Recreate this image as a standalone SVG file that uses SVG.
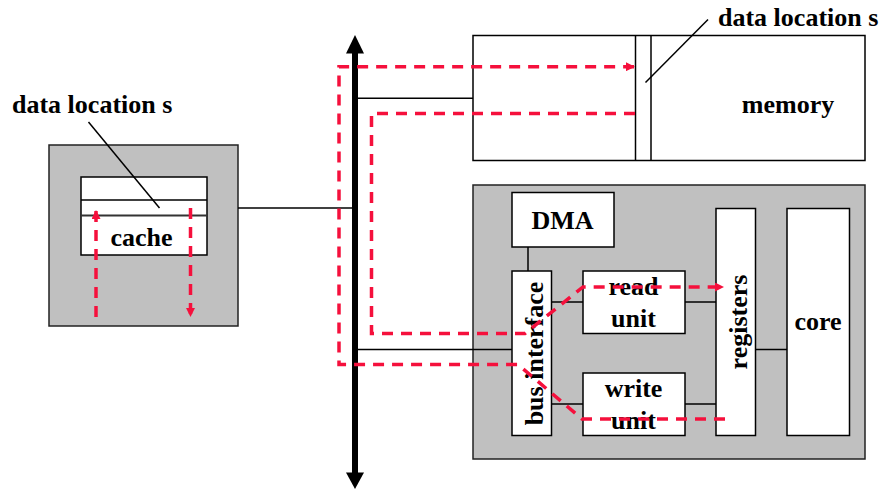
<svg xmlns="http://www.w3.org/2000/svg" width="880" height="492" viewBox="0 0 880 492">
<style>
.box{fill:#ffffff;stroke:#000;stroke-width:1.5}
.gray{fill:#c0c0c0;stroke:#222;stroke-width:1.5}
.ln{stroke:#000;stroke-width:1.5;fill:none}
.flow{stroke:#f5103c;stroke-width:3.5;fill:none;stroke-dasharray:11 8}
.t{font-family:"Liberation Serif","Times New Roman",serif;font-weight:bold;font-size:26px;fill:#000}
.m{text-anchor:middle}
</style>
<defs>
<marker id="ra" markerWidth="9" markerHeight="9" refX="8" refY="4.5" orient="auto" markerUnits="userSpaceOnUse">
<path d="M0,0 L9,4.5 L0,9 Z" fill="#f5103c"/>
</marker>
</defs>
<rect width="880" height="492" fill="#fff"/>

<g id="cache-unit">
<rect class="gray" x="49" y="145" width="189" height="181"/>
<rect class="box" x="81" y="177" width="126" height="78"/>
<line class="ln" x1="81" y1="200" x2="207" y2="200"/>
<line x1="81" y1="215.5" x2="207" y2="215.5" stroke="#333" stroke-width="2"/>
<text class="t m" x="141.5" y="246">cache</text>
</g>

<g id="label-cache-s">
<text class="t" x="12" y="113">data location s</text>
<line class="ln" x1="88.5" y1="122" x2="159.5" y2="208" stroke-width="1.2"/>
</g>

<g id="memory">
<rect class="box" x="473" y="35.5" width="392" height="125"/>
<line class="ln" x1="635.5" y1="35.5" x2="635.5" y2="160.5"/>
<line class="ln" x1="651" y1="35.5" x2="651" y2="160.5"/>
<text class="t m" x="788" y="113">memory</text>
</g>

<g id="label-memory-s">
<text class="t" x="718" y="26">data location s</text>
<line class="ln" x1="708" y1="19.5" x2="645.5" y2="82.5" stroke-width="1.2"/>
</g>

<g id="processor">
<rect class="gray" x="473" y="185" width="392" height="274"/>
</g>
<g id="dma">
<rect class="box" x="512" y="192.5" width="102" height="54.5"/>
<text class="t m" x="562.5" y="229">DMA</text>
</g>
<g id="bus-interface">
<rect class="box" x="512" y="271" width="39.5" height="164.5"/>
<text class="t m" transform="translate(542.5,353.5) rotate(-90)">bus interface</text>
</g>
<g id="read-unit">
<rect class="box" x="583" y="271" width="102" height="62.5"/>
<text class="t m" x="633.5" y="295">read</text>
<text class="t m" x="633.5" y="327">unit</text>
</g>
<g id="write-unit">
<rect class="box" x="583" y="373" width="102" height="62.5"/>
<text class="t m" x="633.5" y="397">write</text>
<text class="t m" x="633.5" y="428.5">unit</text>
</g>
<g id="registers">
<rect class="box" x="716" y="208.5" width="39.5" height="227"/>
<text class="t m" transform="translate(747,322) rotate(-90)">registers</text>
</g>
<g id="core">
<rect class="box" x="787" y="208.5" width="62.5" height="227"/>
<text class="t m" x="818" y="330">core</text>
</g>

<g id="bus">
<line x1="355" y1="50" x2="355" y2="475" stroke="#000" stroke-width="6"/>
<path d="M355,35 L364,53.5 L346,53.5 Z" fill="#000"/>
<path d="M355,489 L364,472.5 L346,472.5 Z" fill="#000"/>
</g>

<g id="connectors">
<line class="ln" x1="238" y1="208" x2="355" y2="208"/>
<line class="ln" x1="355" y1="98.3" x2="473" y2="98.3"/>
<line class="ln" x1="355" y1="349.5" x2="512" y2="349.5"/>
<line class="ln" x1="528" y1="247" x2="528" y2="271"/>
<line class="ln" x1="551.5" y1="302" x2="583" y2="302"/>
<line class="ln" x1="685" y1="302" x2="716" y2="302"/>
<line class="ln" x1="551.5" y1="404" x2="583" y2="404"/>
<line class="ln" x1="685" y1="404" x2="716" y2="404"/>
<line class="ln" x1="755.5" y1="349.5" x2="787" y2="349.5"/>
</g>

<g id="flows">
<path class="flow" d="M96,317 V211" marker-end="url(#ra)"/>
<path class="flow" d="M190.5,208 V316" marker-end="url(#ra)"/>
<path class="flow" d="M635,113.5 H371.5 V333.5 H525 L583,287 H723" marker-end="url(#ra)"/>
<path class="flow" d="M725,419 H582 L518,364.5 H339 V66.7 H634" marker-end="url(#ra)"/>
</g>
</svg>
